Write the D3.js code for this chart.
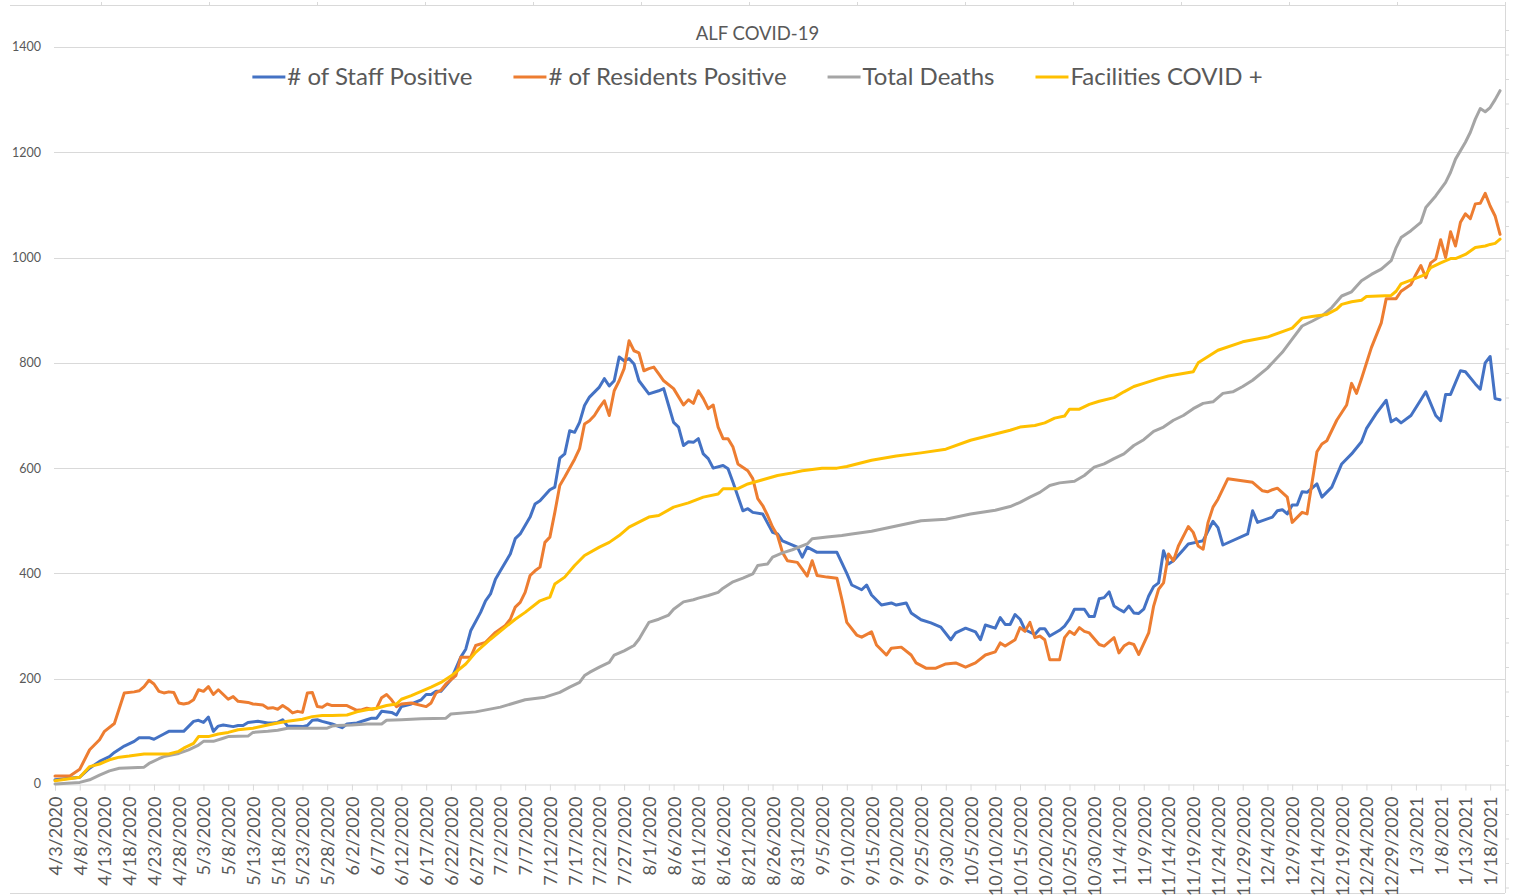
<!DOCTYPE html>
<html>
<head>
<meta charset="utf-8">
<script src="https://cdn.jsdelivr.net/npm/d3@7"></script>
<style>
  body { margin: 0; background: #fff; }
  svg { display: block; font-family: Lato, "Open Sans", sans-serif; }
</style>
</head>
<body>
<div id="container"></div>
<script>
// series values: [date, value]
const staffPositive = [
  ["4/3/2020",8],["4/8/2020",13],["4/10/2020",30],["4/12/2020",43],["4/14/2020",52],["4/15/2020",60],["4/17/2020",72],["4/19/2020",81],["4/20/2020",88],["4/22/2020",88],["4/23/2020",85],["4/25/2020",95],["4/26/2020",100],["4/29/2020",100],
  ["5/1/2020",119],["5/2/2020",121],["5/3/2020",117],["5/4/2020",127],["5/5/2020",100],["5/6/2020",110],["5/7/2020",112],["5/9/2020",109],["5/10/2020",111],["5/11/2020",111],["5/12/2020",117],["5/14/2020",119],["5/16/2020",116],["5/17/2020",116],["5/18/2020",117],["5/19/2020",122],["5/20/2020",110],["5/23/2020",109],["5/24/2020",111],["5/25/2020",121],["5/26/2020",122],["5/27/2020",119],["5/29/2020",114],["5/31/2020",107],
  ["6/1/2020",114],["6/3/2020",116],["6/5/2020",122],["6/6/2020",125],["6/7/2020",125],["6/8/2020",138],["6/10/2020",136],["6/11/2020",131],["6/12/2020",147],["6/14/2020",152],["6/16/2020",160],["6/17/2020",170],["6/18/2020",170],["6/19/2020",176],["6/20/2020",176],["6/22/2020",198],["6/24/2020",241],["6/25/2020",256],["6/26/2020",291],["6/28/2020",326],["6/29/2020",348],["6/30/2020",361],
  ["7/1/2020",389],["7/2/2020",405],["7/4/2020",437],["7/5/2020",466],["7/6/2020",475],["7/7/2020",491],["7/8/2020",507],["7/9/2020",532],["7/10/2020",538],["7/12/2020",559],["7/13/2020",564],["7/14/2020",619],["7/15/2020",627],["7/16/2020",671],["7/17/2020",668],["7/18/2020",687],["7/19/2020",719],["7/20/2020",735],["7/22/2020",754],["7/23/2020",770],["7/24/2020",756],["7/25/2020",766],["7/26/2020",811],["7/27/2020",804],["7/28/2020",808],["7/29/2020",798],["7/30/2020",766],
  ["8/1/2020",741],["8/3/2020",747],["8/4/2020",751],["8/5/2020",719],["8/6/2020",687],["8/7/2020",678],["8/8/2020",643],["8/9/2020",650],["8/10/2020",649],["8/11/2020",656],["8/12/2020",627],["8/13/2020",618],["8/14/2020",600],["8/16/2020",605],["8/17/2020",599],["8/18/2020",573],["8/20/2020",519],["8/21/2020",523],["8/22/2020",516],["8/24/2020",513],["8/26/2020",478],["8/27/2020",475],["8/28/2020",462],["8/31/2020",450],
  ["9/1/2020",431],["9/2/2020",450],["9/4/2020",440],["9/8/2020",440],["9/10/2020",400],["9/11/2020",378],["9/13/2020",369],["9/14/2020",378],["9/15/2020",359],["9/17/2020",340],["9/19/2020",344],["9/20/2020",340],["9/22/2020",344],["9/23/2020",325],["9/25/2020",312],["9/27/2020",306],["9/29/2020",298],
  ["10/1/2020",274],["10/2/2020",287],["10/4/2020",296],["10/6/2020",289],["10/7/2020",274],["10/8/2020",302],["10/10/2020",296],["10/11/2020",316],["10/12/2020",303],["10/13/2020",303],["10/14/2020",322],["10/15/2020",313],["10/16/2020",293],["10/18/2020",284],["10/19/2020",295],["10/20/2020",295],["10/21/2020",281],["10/23/2020",292],["10/24/2020",300],["10/25/2020",313],["10/26/2020",332],["10/28/2020",332],["10/29/2020",318],["10/30/2020",318],["10/31/2020",352],
  ["11/1/2020",354],["11/2/2020",365],["11/3/2020",338],["11/4/2020",332],["11/5/2020",327],["11/6/2020",338],["11/7/2020",325],["11/8/2020",324],["11/9/2020",332],["11/10/2020",357],["11/11/2020",375],["11/12/2020",382],["11/13/2020",443],["11/14/2020",418],["11/15/2020",424],["11/17/2020",445],["11/18/2020",456],["11/20/2020",460],["11/21/2020",462],["11/22/2020",481],["11/23/2020",499],["11/24/2020",487],["11/25/2020",454],["11/30/2020",475],
  ["12/1/2020",519],["12/2/2020",497],["12/5/2020",507],["12/6/2020",519],["12/7/2020",521],["12/8/2020",513],["12/9/2020",530],["12/10/2020",530],["12/11/2020",555],["12/12/2020",554],["12/14/2020",570],["12/15/2020",545],["12/17/2020",564],["12/19/2020",608],["12/21/2020",627],["12/23/2020",650],["12/24/2020",675],["12/26/2020",704],["12/28/2020",729],["12/29/2020",688],["12/30/2020",694],["12/31/2020",686],
  ["1/2/2021",700],["1/4/2021",730],["1/5/2021",745],["1/7/2021",700],["1/8/2021",690],["1/9/2021",740],["1/10/2021",740],["1/12/2021",785],["1/13/2021",783],["1/15/2021",760],["1/16/2021",750],["1/17/2021",800],["1/18/2021",812],["1/19/2021",732],["1/20/2021",730]
];

const residentsPositive = [
  ["4/3/2020",15],["4/6/2020",15],["4/8/2020",28],["4/10/2020",65],["4/12/2020",84],["4/13/2020",100],["4/15/2020",115],["4/17/2020",173],["4/19/2020",175],["4/20/2020",177],["4/21/2020",185],["4/22/2020",197],["4/23/2020",190],["4/24/2020",176],["4/25/2020",173],["4/26/2020",175],["4/27/2020",174],["4/28/2020",154],["4/29/2020",152],["4/30/2020",154],
  ["5/1/2020",160],["5/2/2020",179],["5/3/2020",176],["5/4/2020",185],["5/5/2020",170],["5/6/2020",179],["5/8/2020",161],["5/9/2020",166],["5/10/2020",157],["5/12/2020",155],["5/13/2020",152],["5/15/2020",150],["5/16/2020",144],["5/17/2020",145],["5/18/2020",142],["5/19/2020",149],["5/20/2020",143],["5/21/2020",135],["5/22/2020",138],["5/23/2020",136],["5/24/2020",173],["5/25/2020",174],["5/26/2020",147],["5/27/2020",146],["5/28/2020",152],["5/29/2020",149],
  ["6/1/2020",149],["6/3/2020",140],["6/4/2020",141],["6/5/2020",144],["6/6/2020",142],["6/7/2020",144],["6/8/2020",164],["6/9/2020",170],["6/10/2020",160],["6/11/2020",147],["6/12/2020",152],["6/14/2020",154],["6/17/2020",147],["6/18/2020",154],["6/19/2020",173],["6/20/2020",178],["6/21/2020",190],["6/22/2020",198],["6/23/2020",206],["6/24/2020",241],["6/26/2020",241],["6/27/2020",263],["6/29/2020",269],
  ["7/1/2020",288],["7/3/2020",301],["7/4/2020",313],["7/5/2020",336],["7/6/2020",345],["7/7/2020",364],["7/8/2020",396],["7/9/2020",405],["7/10/2020",412],["7/11/2020",459],["7/12/2020",469],["7/13/2020",516],["7/14/2020",567],["7/15/2020",583],["7/17/2020",617],["7/18/2020",637],["7/19/2020",684],["7/20/2020",690],["7/21/2020",700],["7/22/2020",715],["7/23/2020",728],["7/24/2020",700],["7/25/2020",747],["7/26/2020",766],["7/27/2020",789],["7/28/2020",842],["7/29/2020",823],["7/30/2020",819],["7/31/2020",785],
  ["8/1/2020",789],["8/2/2020",792],["8/3/2020",779],["8/4/2020",766],["8/6/2020",751],["8/8/2020",720],["8/9/2020",730],["8/10/2020",723],["8/11/2020",747],["8/12/2020",732],["8/13/2020",713],["8/14/2020",720],["8/15/2020",678],["8/16/2020",656],["8/17/2020",656],["8/18/2020",640],["8/19/2020",608],["8/21/2020",595],["8/22/2020",580],["8/23/2020",542],["8/24/2020",529],["8/25/2020",510],["8/26/2020",488],["8/27/2020",472],["8/28/2020",440],["8/29/2020",424],["8/31/2020",421],
  ["9/1/2020",408],["9/2/2020",395],["9/3/2020",424],["9/4/2020",396],["9/6/2020",393],["9/8/2020",391],["9/9/2020",351],["9/10/2020",307],["9/12/2020",283],["9/13/2020",279],["9/15/2020",289],["9/16/2020",264],["9/18/2020",245],["9/19/2020",258],["9/21/2020",260],["9/23/2020",245],["9/24/2020",230],["9/26/2020",220],["9/28/2020",220],["9/30/2020",228],
  ["10/2/2020",230],["10/4/2020",222],["10/6/2020",230],["10/8/2020",245],["10/10/2020",251],["10/11/2020",268],["10/12/2020",262],["10/14/2020",274],["10/15/2020",297],["10/16/2020",290],["10/17/2020",307],["10/18/2020",278],["10/19/2020",281],["10/20/2020",274],["10/21/2020",236],["10/23/2020",236],["10/24/2020",278],["10/25/2020",290],["10/26/2020",284],["10/27/2020",297],["10/28/2020",290],["10/29/2020",287],["10/31/2020",265],
  ["11/1/2020",262],["11/3/2020",278],["11/4/2020",249],["11/5/2020",262],["11/6/2020",268],["11/7/2020",265],["11/8/2020",246],["11/10/2020",287],["11/11/2020",338],["11/12/2020",370],["11/13/2020",382],["11/14/2020",437],["11/15/2020",424],["11/16/2020",452],["11/18/2020",489],["11/19/2020",478],["11/20/2020",452],["11/21/2020",446],["11/22/2020",497],["11/23/2020",526],["11/24/2020",541],["11/26/2020",580],
  ["12/1/2020",573],["12/3/2020",557],["12/4/2020",555],["12/5/2020",559],["12/6/2020",562],["12/8/2020",545],["12/9/2020",497],["12/11/2020",516],["12/12/2020",513],["12/14/2020",631],["12/15/2020",646],["12/16/2020",652],["12/18/2020",691],["12/20/2020",720],["12/21/2020",761],["12/22/2020",742],["12/23/2020",770],["12/25/2020",829],["12/27/2020",876],["12/28/2020",922],["12/30/2020",922],["12/31/2020",936],
  ["1/2/2021",949],["1/3/2021",968],["1/4/2021",985],["1/5/2021",962],["1/6/2021",990],["1/7/2021",997],["1/8/2021",1034],["1/9/2021",1000],["1/10/2021",1049],["1/11/2021",1022],["1/12/2021",1067],["1/13/2021",1083],["1/14/2021",1074],["1/15/2021",1102],["1/16/2021",1103],["1/17/2021",1122],["1/18/2021",1098],["1/19/2021",1079],["1/20/2021",1044]
];

const totalDeaths = [
  ["4/3/2020",0],["4/8/2020",3],["4/10/2020",8],["4/12/2020",17],["4/14/2020",25],["4/16/2020",30],["4/21/2020",32],["4/22/2020",39],["4/24/2020",48],["4/25/2020",52],["4/28/2020",58],["4/30/2020",65],
  ["5/2/2020",74],["5/3/2020",81],["5/5/2020",81],["5/7/2020",87],["5/8/2020",90],["5/12/2020",91],["5/13/2020",98],["5/16/2020",100],["5/18/2020",102],["5/20/2020",106],["5/28/2020",106],["5/29/2020",110],["5/30/2020",111],
  ["6/2/2020",112],["6/5/2020",114],["6/8/2020",114],["6/9/2020",121],["6/12/2020",122],["6/16/2020",124],["6/21/2020",125],["6/22/2020",133],["6/27/2020",137],
  ["7/2/2020",146],["7/7/2020",160],["7/11/2020",165],["7/14/2020",174],["7/16/2020",184],["7/18/2020",193],["7/19/2020",206],["7/20/2020",212],["7/22/2020",222],["7/24/2020",231],["7/25/2020",245],["7/27/2020",253],["7/29/2020",263],["7/30/2020",275],["7/31/2020",291],
  ["8/1/2020",307],["8/3/2020",313],["8/5/2020",321],["8/6/2020",332],["8/8/2020",346],["8/10/2020",350],["8/11/2020",353],["8/13/2020",358],["8/15/2020",364],["8/16/2020",372],["8/18/2020",384],["8/20/2020",391],["8/22/2020",399],["8/23/2020",415],["8/25/2020",418],["8/26/2020",431],["8/28/2020",439],["8/30/2020",445],
  ["9/2/2020",456],["9/3/2020",466],["9/6/2020",469],["9/9/2020",472],["9/11/2020",475],["9/15/2020",480],["9/20/2020",490],["9/25/2020",500],["9/30/2020",503],
  ["10/5/2020",513],["10/10/2020",520],["10/13/2020",527],["10/15/2020",535],["10/17/2020",545],["10/19/2020",554],["10/21/2020",567],["10/23/2020",572],["10/26/2020",575],["10/28/2020",586],["10/30/2020",602],
  ["11/1/2020",608],["11/3/2020",618],["11/5/2020",627],["11/7/2020",643],["11/9/2020",654],["11/11/2020",670],["11/13/2020",678],["11/15/2020",691],["11/17/2020",700],["11/19/2020",713],["11/21/2020",723],["11/23/2020",726],["11/25/2020",742],["11/27/2020",745],["11/29/2020",755],
  ["12/1/2020",767],["12/4/2020",790],["12/7/2020",820],["12/9/2020",845],["12/11/2020",870],["12/13/2020",879],["12/15/2020",889],["12/17/2020",905],["12/19/2020",927],["12/21/2020",935],["12/23/2020",956],["12/25/2020",968],["12/27/2020",978],["12/29/2020",994],["12/30/2020",1019],["12/31/2020",1038],
  ["1/2/2021",1051],["1/4/2021",1067],["1/5/2021",1095],["1/7/2021",1117],["1/9/2021",1143],["1/10/2021",1162],["1/11/2021",1187],["1/13/2021",1219],["1/14/2021",1238],["1/15/2021",1263],["1/16/2021",1283],["1/17/2021",1277],["1/18/2021",1285],["1/19/2021",1300],["1/20/2021",1317]
];

const facilitiesPositive = [
  ["4/3/2020",6],["4/8/2020",13],["4/10/2020",33],["4/12/2020",38],["4/14/2020",46],["4/16/2020",51],["4/18/2020",53],["4/21/2020",57],["4/26/2020",57],["4/28/2020",62],["4/29/2020",68],
  ["5/1/2020",77],["5/2/2020",90],["5/4/2020",90],["5/6/2020",95],["5/8/2020",98],["5/10/2020",103],["5/13/2020",106],["5/16/2020",112],["5/18/2020",116],["5/20/2020",119],["5/23/2020",123],["5/25/2020",128],["5/27/2020",130],["5/29/2020",130],
  ["6/1/2020",131],["6/3/2020",137],["6/5/2020",141],["6/7/2020",144],["6/9/2020",149],["6/11/2020",152],["6/12/2020",161],["6/14/2020",168],["6/16/2020",176],["6/18/2020",184],["6/20/2020",193],["6/22/2020",205],["6/25/2020",228],["6/27/2020",250],["6/30/2020",275],
  ["7/3/2020",298],["7/5/2020",313],["7/7/2020",326],["7/10/2020",348],["7/12/2020",355],["7/13/2020",380],["7/15/2020",393],["7/17/2020",415],["7/19/2020",434],["7/22/2020",450],["7/24/2020",459],["7/26/2020",472],["7/28/2020",488],
  ["8/1/2020",507],["8/3/2020",510],["8/6/2020",526],["8/9/2020",534],["8/12/2020",545],["8/15/2020",551],["8/16/2020",561],["8/19/2020",561],["8/21/2020",570],["8/24/2020",578],["8/27/2020",586],["8/30/2020",591],
  ["9/1/2020",595],["9/5/2020",600],["9/8/2020",600],["9/10/2020",603],["9/15/2020",615],["9/20/2020",623],["9/25/2020",629],["9/30/2020",636],
  ["10/5/2020",653],["10/10/2020",665],["10/13/2020",672],["10/15/2020",678],["10/18/2020",681],["10/20/2020",686],["10/22/2020",695],["10/24/2020",699],["10/25/2020",712],["10/27/2020",712],["10/29/2020",721],["10/31/2020",727],
  ["11/3/2020",734],["11/5/2020",745],["11/7/2020",755],["11/9/2020",761],["11/12/2020",770],["11/14/2020",775],["11/19/2020",783],["11/20/2020",800],["11/24/2020",824],["11/29/2020",840],
  ["12/4/2020",849],["12/9/2020",866],["12/11/2020",885],["12/13/2020",888],["12/16/2020",892],["12/18/2020",902],["12/19/2020",911],["12/21/2020",916],["12/23/2020",919],["12/24/2020",926],["12/29/2020",928],["12/30/2020",936],["12/31/2020",950],
  ["1/2/2021",957],["1/5/2021",968],["1/6/2021",981],["1/8/2021",990],["1/10/2021",998],["1/11/2021",998],["1/13/2021",1006],["1/15/2021",1019],["1/17/2021",1022],["1/18/2021",1025],["1/19/2021",1027],["1/20/2021",1035]
];

const seriesNames = ["# of Staff Positive", "# of Residents Positive", "Total Deaths", "Facilities COVID +"];
const seriesColors = ["#4472C4", "#ED7D31", "#A5A5A5", "#FFC000"];
const yTicks = [0, 200, 400, 600, 800, 1000, 1200, 1400];
const chartTitle = "ALF COVID-19";


// chart dimensions
const width = 1513;
const height = 895;
const marginTop = 47;
const marginRight = 8;
const marginBottom = 111;
const marginLeft = 55;

const parseDate = d3.timeParse("%m/%d/%Y");
const formatDate = d3.timeFormat("%-m/%-d/%Y");
const startDate = parseDate("4/3/2020");
const endDate = parseDate("1/21/2021");

const x = d3.scaleTime()
    .domain([startDate, endDate])
    .range([marginLeft, width - marginRight]);

const y = d3.scaleLinear()
    .domain([0, 1400])
    .range([height - marginBottom, marginTop]);

const svg = d3.select("#container")
    .append("svg")
    .attr("width", width)
    .attr("height", height);

svg.append("rect")
    .attr("width", width)
    .attr("height", height)
    .attr("fill", "#fff");

// outer frame of the chart area
const frame = svg.append("g")
    .attr("stroke", "#d9d9d9")
    .attr("stroke-width", 1);
frame.append("line").attr("x1", 10).attr("x2", 1505).attr("y1", 5.5).attr("y2", 5.5);
frame.append("line").attr("x1", 1505.5).attr("x2", 1505.5).attr("y1", 5).attr("y2", 893);
frame.append("line").attr("x1", 10).attr("x2", 1505).attr("y1", 893.5).attr("y2", 893.5);
frame.selectAll("line.top")
    .data(d3.range(14))
    .enter()
    .append("line")
    .attr("class", "top")
    .attr("x1", d => 101.5 + d * 108)
    .attr("x2", d => 101.5 + d * 108)
    .attr("y1", 2)
    .attr("y2", 6);
frame.selectAll("line.right")
    .data(d3.range(36))
    .enter()
    .append("line")
    .attr("class", "right")
    .attr("x1", 1505)
    .attr("x2", 1509)
    .attr("y1", d => 30.5 + d * 24.5)
    .attr("y2", d => 30.5 + d * 24.5);

// horizontal grid lines
svg.append("g")
    .selectAll("line")
    .data(yTicks.slice(1))
    .enter()
    .append("line")
    .attr("x1", marginLeft - 1)
    .attr("x2", width - marginRight)
    .attr("y1", d => Math.round(y(d)) + 0.5)
    .attr("y2", d => Math.round(y(d)) + 0.5)
    .style("stroke", "#d9d9d9")
    .style("stroke-width", 1);

// y axis labels
svg.append("g")
    .selectAll("text")
    .data(yTicks)
    .enter()
    .append("text")
    .attr("x", 41)
    .attr("y", d => y(d))
    .attr("dy", "0.35em")
    .attr("text-anchor", "end")
    .style("font-size", "12.5px")
    .style("fill", "#595959")
    .text(d => d);

// x axis: a tick every 5 days
const xTicks = d3.timeDay.range(startDate, parseDate("1/19/2021"), 5);

const xAxis = svg.append("g")
    .attr("transform", `translate(0,${Math.round(y(0)) + 0.5})`)
    .call(d3.axisBottom(x).tickValues(xTicks).tickFormat(formatDate).tickSizeOuter(0).tickSize(6).tickPadding(6));

xAxis.select(".domain").attr("stroke", "#d9d9d9");
xAxis.selectAll(".tick line").attr("stroke", "#d9d9d9");
xAxis.selectAll(".tick text")
    .attr("transform", "rotate(-90)")
    .attr("x", -12)
    .attr("y", 0)
    .attr("dy", "0.36em")
    .attr("text-anchor", "end")
    .style("font-family", "Lato, sans-serif")
    .style("font-size", "18px")
    .style("fill", "#595959");

// lines
const line = d3.line()
    .x(d => x(parseDate(d[0])))
    .y(d => y(d[1]));

const allSeries = [staffPositive, residentsPositive, totalDeaths, facilitiesPositive];

// draw deaths and facilities first so staff and residents sit on top like Excel order
const drawOrder = [0, 1, 2, 3];
svg.append("g")
    .selectAll("path")
    .data(drawOrder)
    .enter()
    .append("path")
    .attr("d", i => line(allSeries[i]))
    .attr("fill", "none")
    .attr("stroke", i => seriesColors[i])
    .attr("stroke-width", 3)
    .attr("stroke-linejoin", "round")
    .attr("stroke-linecap", "round");

// title
svg.append("text")
    .attr("x", 757.5)
    .attr("y", 40)
    .attr("text-anchor", "middle")
    .style("font-size", "18.5px")
    .style("fill", "#595959")
    .text(chartTitle);

// legend, laid out left to right and centred
const legend = svg.append("g");
const items = legend.selectAll("g")
    .data(seriesNames)
    .enter()
    .append("g");

items.append("line")
    .attr("x1", 0)
    .attr("x2", 33)
    .attr("y1", 77)
    .attr("y2", 77)
    .attr("stroke", (d, i) => seriesColors[i])
    .attr("stroke-width", 3);

items.append("text")
    .attr("x", 35)
    .attr("y", 85)
    .style("font-size", "24px")
    .style("fill", "#595959")
    .text(d => d);

let cursor = 0;
items.each(function() {
    const w = this.querySelector("text").getComputedTextLength();
    d3.select(this).attr("transform", `translate(${cursor},0)`);
    cursor += 35 + w + 41;
});
const legendWidth = cursor - 41;
legend.attr("transform", `translate(${757.5 - legendWidth / 2},0)`);
</script>
</body>
</html>
